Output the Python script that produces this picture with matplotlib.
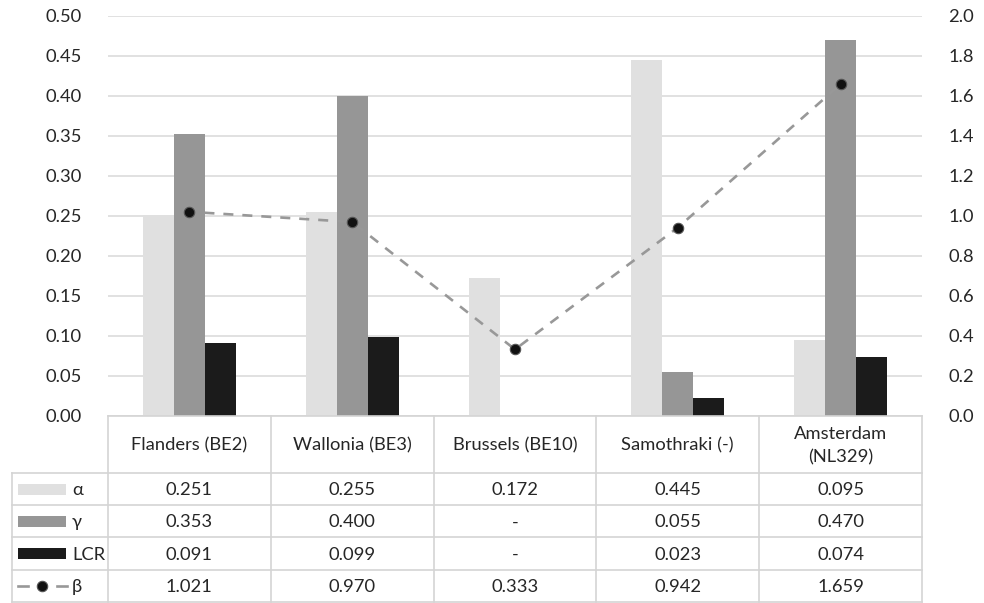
import numpy as np
import matplotlib
matplotlib.use("Agg")
import matplotlib.pyplot as plt
from matplotlib.lines import Line2D
from matplotlib.patches import Rectangle

plt.rcParams['font.family'] = ['Lato', 'DejaVu Sans']

categories = ["Flanders (BE2)", "Wallonia (BE3)", "Brussels (BE10)", "Samothraki (-)", "Amsterdam\n(NL329)"]
alpha = [0.251, 0.255, 0.172, 0.445, 0.095]
gamma = [0.353, 0.400, np.nan, 0.055, 0.470]
lcr = [0.091, 0.099, np.nan, 0.023, 0.074]
beta = [1.021, 0.970, 0.333, 0.942, 1.659]
series_names = ["α", "γ", "LCR", "β"]
left_ticks = [0.00, 0.05, 0.10, 0.15, 0.20, 0.25, 0.30, 0.35, 0.40, 0.45, 0.50]
right_ticks = [0.0, 0.2, 0.4, 0.6, 0.8, 1.0, 1.2, 1.4, 1.6, 1.8, 2.0]

c_alpha = "#e0e0e0"
c_gamma = "#969696"
c_lcr = "#1b1b1b"
c_beta = "#989898"
c_grid = "#dcdcdc"
c_text = "#262626"
FS = 13.2

W, H = 984, 603
fig = plt.figure(figsize=(W / 100, H / 100), dpi=100)

# pixel layout
px_left, px_right, px_top, px_bottom = 108, 922, 16, 416
ax = fig.add_axes([px_left / W, 1 - px_bottom / H, (px_right - px_left) / W, (px_bottom - px_top) / H])
ax2 = ax.twinx()

n = len(categories)
x = np.arange(n)
bw = 0.19
ax.bar(x - bw, alpha, bw, color=c_alpha, zorder=2)
ax.bar(x, gamma, bw, color=c_gamma, zorder=2)
ax.bar(x + bw, lcr, bw, color=c_lcr, zorder=2)
ax2.plot(x, beta, color=c_beta, lw=1.9, ls=(1.5, (3.8, 3.4)), marker="o", ms=7.5,
         mfc="#111111", mec="#555555", mew=0.8, zorder=3)

ax.set_xlim(-0.5, n - 0.5)
ax.set_ylim(0, 0.5)
ax2.set_ylim(0, 2.0)
ax.set_yticks(left_ticks)
ax.set_yticklabels([f"{t:.2f}" for t in left_ticks])
ax2.set_yticks(right_ticks)
ax2.set_yticklabels([f"{t:.1f}" for t in right_ticks])
ax.set_xticks([])
ax.yaxis.grid(True, color=c_grid, lw=1.2, zorder=0)
ax.set_axisbelow(True)
for a in (ax, ax2):
    for s in a.spines.values():
        s.set_visible(False)
    a.tick_params(axis="y", length=0, labelsize=FS, labelcolor=c_text)
ax.tick_params(axis="y", pad=19)
ax2.tick_params(axis="y", pad=19)

# data table drawn in pixel coords
tax = fig.add_axes([0, 0, 1, 1])
tax.set_xlim(0, W)
tax.set_ylim(H, 0)
tax.axis("off")

col_edges = np.linspace(px_left, px_right, n + 1)
header_bottom = 473
row_h = 32.2
row_edges = [header_bottom + i * row_h for i in range(5)]
tab_left = 12
lc = "#d4d4d4"
lw = 1.2

for xe in col_edges:
    tax.plot([xe, xe], [px_bottom, row_edges[-1]], color=lc, lw=lw)
tax.plot([tab_left, tab_left], [header_bottom, row_edges[-1]], color=lc, lw=lw)
tax.plot([px_left, px_right], [px_bottom, px_bottom], color=lc, lw=lw)
for ye in row_edges:
    tax.plot([tab_left, px_right], [ye, ye], color=lc, lw=lw)

for i, cat in enumerate(categories):
    cx = (col_edges[i] + col_edges[i + 1]) / 2
    tax.text(cx, (px_bottom + header_bottom) / 2 + 1, cat, ha="center", va="center",
             fontsize=FS, color=c_text, linespacing=1.55)

def fmt(v):
    return "-" if np.isnan(v) else f"{v:.3f}"

rows = [alpha, gamma, lcr, beta]
for r, vals in enumerate(rows):
    cy = (row_edges[r] + row_edges[r + 1]) / 2
    for i, v in enumerate(vals):
        cx = (col_edges[i] + col_edges[i + 1]) / 2
        tax.text(cx, cy + 1, fmt(float(v)), ha="center", va="center", fontsize=FS, color=c_text)
    tax.text(72, cy + 1, series_names[r], ha="left", va="center", fontsize=FS, color=c_text)

# legend keys
key_colors = [c_alpha, c_gamma, c_lcr]
for r, kc in enumerate(key_colors):
    cy = (row_edges[r] + row_edges[r + 1]) / 2
    tax.add_patch(Rectangle((18, cy - 5.5), 48, 11, color=kc, lw=0))
cy = (row_edges[3] + row_edges[4]) / 2
tax.add_line(Line2D([18, 28], [cy, cy], color=c_beta, lw=1.9))
tax.add_line(Line2D([57, 67], [cy, cy], color=c_beta, lw=1.9))
tax.plot([42], [cy], marker="o", ms=7.5, mfc="#111111", mec="#555555", mew=0.8, ls="none")

fig.savefig("out.png", dpi=100)
